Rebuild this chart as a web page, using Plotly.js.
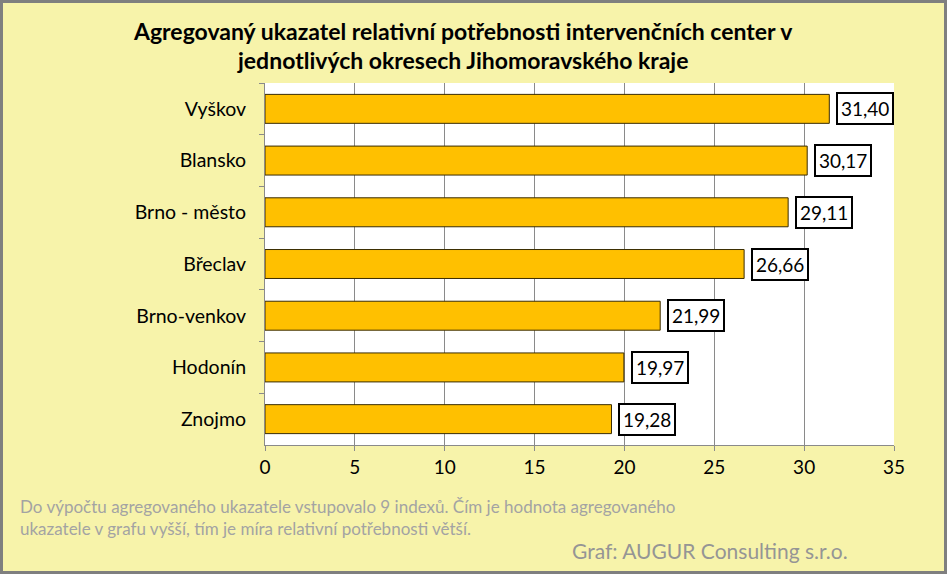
<!DOCTYPE html>
<html>
<head>
<meta charset="utf-8">
<script src="https://cdn.plot.ly/plotly-3.0.1.min.js"></script>
<style>
html,body{margin:0;padding:0;background:#fff;}
#chart{width:947px;height:574px;position:relative;}
#chart::after{content:"";position:absolute;left:0;top:0;width:947px;height:574px;box-sizing:border-box;border:3px solid #7f7f7f;pointer-events:none;}
</style>
</head>
<body>
<div id="chart"></div>
<script>
const districts = ["Vyškov", "Blansko", "Brno - město", "Břeclav", "Brno-venkov", "Hodonín", "Znojmo"];
const values = [31.40, 30.17, 29.11, 26.66, 21.99, 19.97, 19.28];
const valueLabels = ["31,40", "30,17", "29,11", "26,66", "21,99", "19,97", "19,28"];
const xTicks = [0, 5, 10, 15, 20, 25, 30, 35];
const titleLines = ["Agregovaný ukazatel relativní potřebnosti intervenčních center v", "jednotlivých okresech Jihomoravského kraje"];

const font = "Lato, 'Open Sans', sans-serif";

const trace = {
  type: "bar",
  orientation: "h",
  y: districts,
  x: values,
  width: 0.56,
  marker: {color: "#FFC000", line: {color: "#3a2c00", width: 1}},
  hoverinfo: "none"
};

const annotations = values.map((v, i) => ({
  x: v, y: districts[i], xref: "x", yref: "y",
  text: valueLabels[i], showarrow: false,
  xanchor: "left", yanchor: "middle", xshift: 7,
  bgcolor: "#ffffff", bordercolor: "#000000", borderwidth: 2, borderpad: 3,
  font: {family: font, size: 19, color: "#000"}
}));

// title lines (placed as annotations relative to the plot area)
const titleY = [31, 60];
titleLines.forEach((t, i) => {
  annotations.push({
    xref: "paper", yref: "paper", x: (463 - 265) / 629, y: (445 - titleY[i]) / 362,
    xanchor: "center", yanchor: "middle", showarrow: false,
    text: "<b>" + t + "</b>",
    font: {family: font, size: 23, color: "#000"}
  });
});

annotations.push({
  xref: "paper", yref: "paper", x: (18 - 265) / 629, y: (445 - 494) / 362, xanchor: "left", yanchor: "top",
  align: "left", showarrow: false,
  text: "Do výpočtu agregovaného ukazatele vstupovalo 9 indexů. Čím je hodnota agregovaného<br>ukazatele v grafu vyšší, tím je míra relativní potřebnosti větší.",
  font: {family: font, size: 17, color: "#a3a3a3"}
});
annotations.push({
  xref: "paper", yref: "paper", x: (710 - 265) / 629, y: (445 - 550) / 362, xanchor: "center", yanchor: "middle",
  showarrow: false, text: "Graf: AUGUR Consulting s.r.o.",
  font: {family: font, size: 21, color: "#959595"}
});

const layout = {
  width: 947, height: 574,
  paper_bgcolor: "#F7F3AA",
  plot_bgcolor: "#ffffff",
  margin: {l: 265, r: 53, t: 83, b: 129},
  xaxis: {
    range: [0, 35], tickvals: xTicks, ticktext: xTicks.map(String),
    showgrid: true, gridcolor: "#8a8a8a", gridwidth: 1,
    zeroline: false, showline: true, linecolor: "#8a8a8a", linewidth: 1,
    ticks: "outside", ticklen: 5, tickcolor: "#8a8a8a",
    tickfont: {family: font, size: 19, color: "#000"}, fixedrange: true
  },
  yaxis: {
    autorange: "reversed", type: "category",
    showline: true, linecolor: "#8a8a8a", linewidth: 1,
    ticks: "outside", tickson: "boundaries", ticklen: 5, tickcolor: "#8a8a8a",
    showgrid: false, ticklabelstandoff: 14,
    tickfont: {family: font, size: 19.5, color: "#000"}, fixedrange: true
  },
  annotations: annotations,
  showlegend: false
};

Plotly.newPlot("chart", [trace], layout, {displayModeBar: false, staticPlot: true});
</script>
</body>
</html>
